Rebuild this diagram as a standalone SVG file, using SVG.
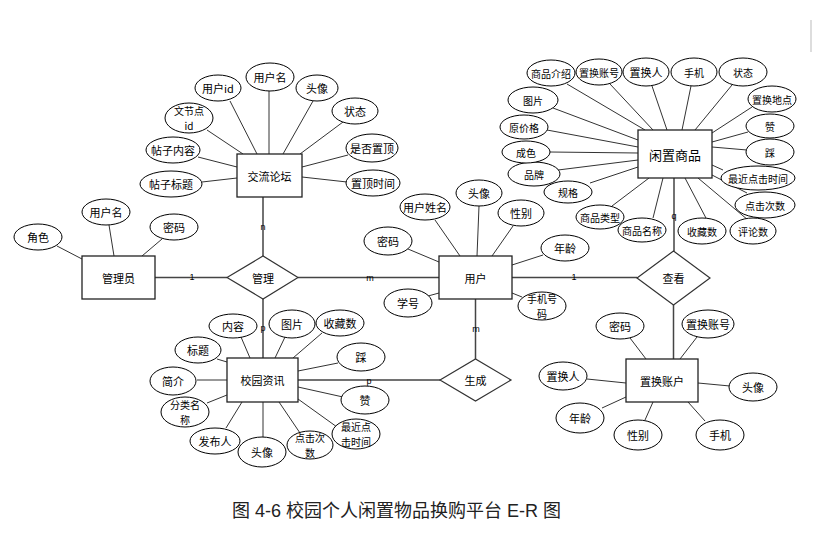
<svg xmlns="http://www.w3.org/2000/svg" width="813" height="538" viewBox="0 0 813 538">
<style>
.e{fill:#fff;stroke:#000;stroke-width:1}
.b{fill:#fff;stroke:#222;stroke-width:1.3}
.d{fill:#fff;stroke:#333;stroke-width:1.2}
.a{stroke:#333;stroke-width:1;fill:none}
.k{stroke:#444;stroke-width:1.5;fill:none}
text{font-family:"Noto Sans CJK SC","Liberation Sans",sans-serif;font-size:11px;text-anchor:middle;dominant-baseline:central;fill:#000}
.c{font-size:9px;font-family:"Liberation Sans",sans-serif}
.big{font-size:13px}
.two{font-size:10px}
.cap{font-family:"Liberation Sans","Noto Sans CJK SC",sans-serif;font-size:18px;fill:#222}
</style>
<rect width="813" height="538" fill="#fff"/>
<line x1="811" y1="20" x2="811" y2="52" stroke="#bbb" stroke-width="1"/>

<g id="connectors">
  <!-- 交流论坛 attributes -->
  <path class="a" d="M257,154L230,101M269,154L269,91M283,154L313,101M300,154L343,122M302,167L348,155M302,177L347,182M237,178L202,182M237,167L198,157M243,154L207,130"/>
  <!-- 管理员 attributes -->
  <path class="a" d="M57,246L82,259M109,225L114,256M162,239L142,256"/>
  <!-- 用户 attributes -->
  <path class="a" d="M435,220L460,256M479,206L477,256M513,226L492,256M408,249L439,262M543,255L512,265M428,296L439,293M522,297L512,293"/>
  <!-- 置换账户 attributes -->
  <path class="a" d="M630,338L646,359M697,337L680,359M587,379L626,383M698,383L730,386M602,408L626,397M645,420L653,402M705,421L688,402"/>
  <!-- 闲置商品 attributes -->
  <path class="a" d="M567,84L645,130M610,84L653,130M652,86L667,130M691,86L682,130M732,85L695,130M752,107L712,133M748,132L712,142M747,150L712,147M723,170L712,165M747,193L712,175M748,220L698,178M707,220L685,178M653,218L663,178M612,206L649,178M590,183L638,167M558,170L638,160M550,152L638,153M547,130L638,147M553,108L638,140"/>
  <!-- 校园资讯 attributes -->
  <path class="a" d="M250,358L241,337M275,358L285,337M293,358L322,333M227,362L217,359M298,371L338,363M227,380L197,380M298,387L343,397M227,395L207,403M242,402L226,428M263,402L263,438M279,402L300,433M298,399L337,427"/>
  <!-- relationships -->
  <path class="k" d="M263,197L263,256M155,277.5L227,277.5M298,277.5L439,277.5M263,299L263,358M512,277.5L637,277.5M475.5,299L475.5,359M298,380L440,380M674,178L674,251M673.5,305L673.5,359"/>
  <text class="c" x="263" y="227">n</text>
  <text class="c" x="192" y="277">1</text>
  <text class="c" x="370" y="278">m</text>
  <text class="c" x="263" y="328">p</text>
  <text class="c" x="574" y="277">1</text>
  <text class="c" x="476" y="329">m</text>
  <text class="c" x="369" y="381">p</text>
  <text class="c" x="674" y="216">q</text>
</g>

<!-- 交流论坛 -->
<g id="forum">
  <rect class="b" x="237" y="154" width="65" height="43"/>
  <text x="269.5" y="175.5">交流论坛</text>
</g>
<g id="forum-userid"><ellipse class="e" cx="218" cy="88" rx="23" ry="13"/><text x="218" y="88">用户id</text></g>
<g id="forum-username"><ellipse class="e" cx="270" cy="77" rx="24" ry="14"/><text x="270" y="77">用户名</text></g>
<g id="forum-avatar"><ellipse class="e" cx="317" cy="88" rx="21" ry="13"/><text x="317" y="88">头像</text></g>
<g id="forum-status"><ellipse class="e" cx="355" cy="111" rx="23" ry="13"/><text x="355" y="111">状态</text></g>
<g id="forum-node"><ellipse class="e" cx="189" cy="118" rx="24" ry="15"/><text class="two" x="189" y="110.5">文节点</text><text class="two" x="189" y="125.5">id</text></g>
<g id="forum-content"><ellipse class="e" cx="173" cy="150" rx="27" ry="13"/><text x="173" y="150">帖子内容</text></g>
<g id="forum-title"><ellipse class="e" cx="171" cy="184" rx="31" ry="13"/><text x="171" y="184">帖子标题</text></g>
<g id="forum-top"><ellipse class="e" cx="372" cy="148" rx="26" ry="14"/><text x="372" y="148">是否置顶</text></g>
<g id="forum-toptime"><ellipse class="e" cx="373" cy="183" rx="27" ry="13"/><text x="373" y="183">置顶时间</text></g>

<!-- 管理员 -->
<g id="admin">
  <rect class="b" x="82" y="256" width="73" height="43"/>
  <text x="118.5" y="277.5">管理员</text>
</g>
<g id="admin-role"><ellipse class="e" cx="38" cy="237" rx="24" ry="13"/><text x="38" y="237">角色</text></g>
<g id="admin-username"><ellipse class="e" cx="106" cy="212" rx="24" ry="13"/><text x="106" y="212">用户名</text></g>
<g id="admin-pwd"><ellipse class="e" cx="174" cy="227" rx="24" ry="13"/><text x="174" y="227">密码</text></g>

<!-- 管理 -->
<g id="manage">
  <polygon class="d" points="227,277.5 263,256 298,277.5 263,299"/>
  <text x="263" y="278">管理</text>
</g>

<!-- 用户 -->
<g id="user">
  <rect class="b" x="439" y="256" width="73" height="43"/>
  <text x="475.5" y="277.5">用户</text>
</g>
<g id="user-name"><ellipse class="e" cx="425" cy="207" rx="25" ry="13"/><text x="425" y="207">用户姓名</text></g>
<g id="user-avatar"><ellipse class="e" cx="479" cy="193" rx="23" ry="13"/><text x="479" y="193">头像</text></g>
<g id="user-gender"><ellipse class="e" cx="521" cy="213" rx="23" ry="13"/><text x="521" y="213">性别</text></g>
<g id="user-pwd"><ellipse class="e" cx="388" cy="241" rx="24" ry="14"/><text x="388" y="241">密码</text></g>
<g id="user-age"><ellipse class="e" cx="565" cy="248" rx="24" ry="13"/><text x="565" y="248">年龄</text></g>
<g id="user-sno"><ellipse class="e" cx="408" cy="303" rx="24" ry="14"/><text x="408" y="303">学号</text></g>
<g id="user-phone"><ellipse class="e" cx="542" cy="306" rx="24" ry="14"/><text class="two" x="542" y="298.5">手机号</text><text class="two" x="542" y="313.5">码</text></g>

<!-- 查看 -->
<g id="view">
  <polygon class="d" points="637,278 673.5,251 710,278 673.5,305"/>
  <text x="673.5" y="278">查看</text>
</g>

<!-- 生成 -->
<g id="generate">
  <polygon class="d" points="440,380 475.5,359 511,380 475.5,401"/>
  <text x="475.5" y="380">生成</text>
</g>

<!-- 置换账户 -->
<g id="account">
  <rect class="b" x="626" y="359" width="72" height="43" stroke-width="1.8"/>
  <text x="662" y="380.5">置换账户</text>
</g>
<g id="acc-pwd"><ellipse class="e" cx="620" cy="326" rx="24" ry="13"/><text x="620" y="326">密码</text></g>
<g id="acc-no"><ellipse class="e" cx="708" cy="324" rx="26" ry="14"/><text x="708" y="324">置换账号</text></g>
<g id="acc-person"><ellipse class="e" cx="563" cy="376" rx="24" ry="14"/><text x="563" y="376">置换人</text></g>
<g id="acc-avatar"><ellipse class="e" cx="753" cy="387" rx="24" ry="14"/><text x="753" y="387">头像</text></g>
<g id="acc-age"><ellipse class="e" cx="580" cy="418" rx="24" ry="15"/><text x="580" y="418">年龄</text></g>
<g id="acc-gender"><ellipse class="e" cx="638" cy="435" rx="24" ry="15"/><text x="638" y="435">性别</text></g>
<g id="acc-phone"><ellipse class="e" cx="720" cy="435" rx="24" ry="15"/><text x="720" y="435">手机</text></g>

<!-- 闲置商品 -->
<g id="goods">
  <rect class="b" x="638" y="130" width="74" height="48"/>
  <text class="big" x="675" y="154">闲置商品</text>
</g>
<g id="g-intro"><ellipse class="e" cx="551" cy="73" rx="24" ry="13"/><text class="two" x="551" y="73">商品介绍</text></g>
<g id="g-accno"><ellipse class="e" cx="599" cy="72" rx="23" ry="13"/><text class="two" x="599" y="72">置换账号</text></g>
<g id="g-person"><ellipse class="e" cx="646" cy="72" rx="23" ry="14"/><text x="646" y="72">置换人</text></g>
<g id="g-phone"><ellipse class="e" cx="694" cy="72" rx="23" ry="14"/><text class="two" x="694" y="72">手机</text></g>
<g id="g-status"><ellipse class="e" cx="743" cy="72" rx="24" ry="14"/><text class="two" x="743" y="72">状态</text></g>
<g id="g-place"><ellipse class="e" cx="772" cy="99" rx="24" ry="13"/><text class="two" x="772" y="99">置换地点</text></g>
<g id="g-like"><ellipse class="e" cx="770" cy="126" rx="24" ry="12"/><text class="two" x="770" y="126">赞</text></g>
<g id="g-dislike"><ellipse class="e" cx="770" cy="152" rx="24" ry="13"/><text class="two" x="770" y="152">踩</text></g>
<g id="g-lastclick"><ellipse class="e" cx="758" cy="178" rx="37" ry="12"/><text class="two" x="758" y="178">最近点击时间</text></g>
<g id="g-clicks"><ellipse class="e" cx="765" cy="205" rx="30" ry="13"/><text class="two" x="765" y="205">点击次数</text></g>
<g id="g-comments"><ellipse class="e" cx="753" cy="231" rx="23" ry="13"/><text class="two" x="753" y="231">评论数</text></g>
<g id="g-fav"><ellipse class="e" cx="702" cy="231" rx="24" ry="13"/><text class="two" x="702" y="231">收藏数</text></g>
<g id="g-name"><ellipse class="e" cx="642" cy="230" rx="24" ry="12"/><text class="two" x="642" y="230">商品名称</text></g>
<g id="g-type"><ellipse class="e" cx="600" cy="217" rx="24" ry="12"/><text class="two" x="600" y="217">商品类型</text></g>
<g id="g-spec"><ellipse class="e" cx="568" cy="192" rx="24" ry="11"/><text class="two" x="568" y="192">规格</text></g>
<g id="g-brand"><ellipse class="e" cx="534" cy="174" rx="26" ry="12"/><text class="two" x="534" y="174">品牌</text></g>
<g id="g-cond"><ellipse class="e" cx="526" cy="152" rx="24" ry="11"/><text class="two" x="526" y="152">成色</text></g>
<g id="g-price"><ellipse class="e" cx="524" cy="127" rx="24" ry="12"/><text class="two" x="524" y="127">原价格</text></g>
<g id="g-pic"><ellipse class="e" cx="533" cy="100" rx="25" ry="13"/><text class="two" x="533" y="100">图片</text></g>

<!-- 校园资讯 -->
<g id="news">
  <rect class="b" x="227" y="358" width="71" height="44"/>
  <text x="262.5" y="380">校园资讯</text>
</g>
<g id="n-content"><ellipse class="e" cx="233" cy="326" rx="24" ry="12"/><text x="233" y="326">内容</text></g>
<g id="n-pic"><ellipse class="e" cx="292" cy="324" rx="23" ry="14"/><text x="292" y="324">图片</text></g>
<g id="n-fav"><ellipse class="e" cx="340" cy="323" rx="24" ry="13"/><text x="340" y="323">收藏数</text></g>
<g id="n-title"><ellipse class="e" cx="198" cy="350" rx="23" ry="13"/><text x="198" y="350">标题</text></g>
<g id="n-dislike"><ellipse class="e" cx="361" cy="357" rx="24" ry="14"/><text x="361" y="357">踩</text></g>
<g id="n-summary"><ellipse class="e" cx="173" cy="381" rx="23" ry="14"/><text x="173" y="381">简介</text></g>
<g id="n-like"><ellipse class="e" cx="365" cy="400" rx="24" ry="14"/><text x="365" y="400">赞</text></g>
<g id="n-cat"><ellipse class="e" cx="185" cy="412" rx="24" ry="15"/><text class="two" x="185" y="404.5">分类名</text><text class="two" x="185" y="419.5">称</text></g>
<g id="n-publisher"><ellipse class="e" cx="215" cy="441" rx="25" ry="13"/><text x="215" y="441">发布人</text></g>
<g id="n-avatar"><ellipse class="e" cx="262" cy="452" rx="24" ry="15"/><text x="262" y="452">头像</text></g>
<g id="n-clicks"><ellipse class="e" cx="310" cy="445" rx="23" ry="14"/><text class="two" x="310" y="437.5">点击次</text><text class="two" x="310" y="452.5">数</text></g>
<g id="n-lastclick"><ellipse class="e" cx="356" cy="434" rx="24" ry="15"/><text class="two" x="356" y="426.5">最近点</text><text class="two" x="356" y="441.5">击时间</text></g>

<text class="cap" x="396.5" y="511">图 4-6 校园个人闲置物品换购平台 E-R 图</text>
</svg>
